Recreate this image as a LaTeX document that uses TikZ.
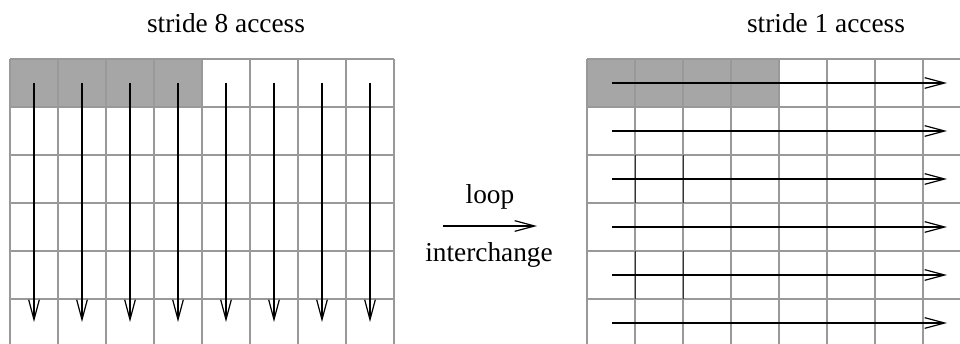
\documentclass[tikz,border=0pt]{standalone}
\usepackage{fontspec}
\setmainfont{Liberation Serif}
\usetikzlibrary{arrows.meta}
\definecolor{cellgray}{HTML}{A6A6A6}
\definecolor{linegray}{HTML}{999999}
\tikzset{
  gridline/.style={draw=linegray, line width=1pt},
  darkline/.style={draw=black!80, line width=0.7pt},
  access/.style={draw=black, line width=0.9pt, -{Straight Barb[length=15pt,width=8pt,line width=0.9pt]}},
  label/.style={font=\fontsize{20.5}{24}\selectfont, inner sep=0pt}
}
\begin{document}
\begin{tikzpicture}[x=0.75pt,y=-0.75pt]
\useasboundingbox (0,0) rectangle (960,343);
\begin{scope}
\clip (0,0) rectangle (960,343);
% shaded first cache line in each array
\fill[cellgray] (10,59) rectangle (202,107);
\fill[cellgray] (587,59) rectangle (779,107);
% left array: 8 columns
\foreach \i in {0,...,8} \draw[gridline] (10+48*\i,59) -- (10+48*\i,350);
\foreach \j in {0,...,6} \draw[gridline] (10,59+48*\j) -- (394,59+48*\j);
% right array
\foreach \i in {0,...,8} \draw[gridline] (587+48*\i,59) -- (587+48*\i,350);
\foreach \j in {0,...,6} \draw[gridline] (587,59+48*\j) -- (970,59+48*\j);
% darker cell edges
\draw[darkline] (635,155) -- (635,203) (683,155) -- (683,203);
\draw[darkline] (635,251) -- (635,299) (683,251) -- (683,299);
% column-wise traversal
\foreach \i in {0,...,7} {
  \coordinate (cs\i) at (34+48*\i,83);
  \coordinate (ce\i) at (34+48*\i,322);
  \draw[access] (cs\i) -- (ce\i);
}
% row-wise traversal
\foreach \j in {0,...,5} {
  \coordinate (rs\j) at (612,83+48*\j);
  \coordinate (re\j) at (947,83+48*\j);
  \draw[access] (rs\j) -- (re\j);
}
\end{scope}
% titles
\node[label] (t1) at (226,23) {stride 8 access};
\node[label] (t2) at (826,23) {stride 1 access};
% transformation arrow
\node[label] (loop) at (490,197) {loop};
\node[label] (inter) at (489,255) {interchange};
\coordinate (a1) at (443,226);
\coordinate (a2) at (537,226);
\draw[access] (a1) -- (a2);
\end{tikzpicture}
\end{document}
